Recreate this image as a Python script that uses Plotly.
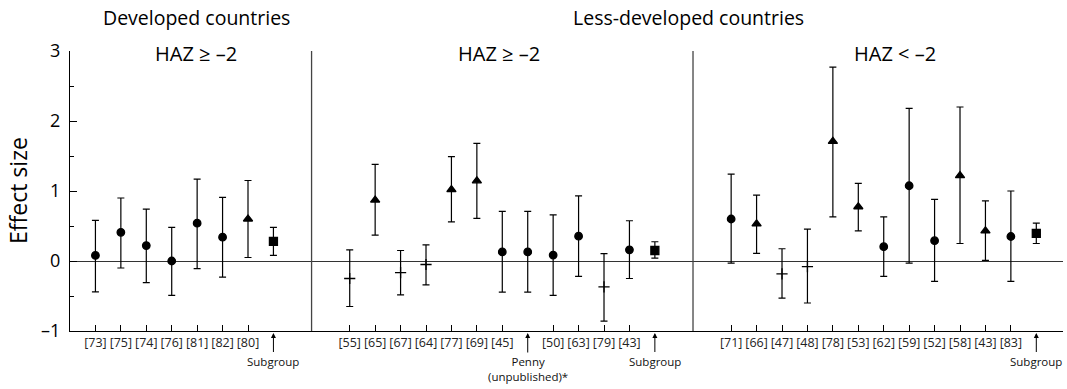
import plotly.graph_objects as go

# ---------------- data ----------------
dev_labels = ["[73]", "[75]", "[74]", "[76]", "[81]", "[82]", "[80]", "Subgroup"]
dev_est = [0.08, 0.41, 0.22, 0.00, 0.54, 0.34, 0.60, 0.28]
dev_lo = [-0.44, -0.10, -0.31, -0.49, -0.11, -0.23, 0.05, 0.08]
dev_hi = [0.58, 0.90, 0.74, 0.48, 1.17, 0.91, 1.15, 0.48]
dev_kind = ["circle", "circle", "circle", "circle", "circle", "circle", "triangle", "square"]

ldc_hi_labels = ["[55]", "[65]", "[67]", "[64]", "[77]", "[69]", "[45]",
                 "Penny<br>(unpublished)*", "[50]", "[63]", "[79]", "[43]", "Subgroup"]
ldc_hi_est = [-0.25, 0.87, -0.165, -0.05, 1.02, 1.145, 0.13, 0.13, 0.085, 0.355, -0.37, 0.16, 0.15]
ldc_hi_lo = [-0.65, 0.37, -0.485, -0.34, 0.56, 0.61, -0.445, -0.445, -0.49, -0.22, -0.86, -0.25, 0.04]
ldc_hi_hi = [0.16, 1.38, 0.15, 0.23, 1.49, 1.68, 0.71, 0.71, 0.66, 0.93, 0.105, 0.575, 0.275]
ldc_hi_kind = ["plus", "triangle", "plus", "plus", "triangle", "triangle", "circle",
               "circle", "circle", "circle", "plus", "circle", "square"]

ldc_lo_labels = ["[71]", "[66]", "[47]", "[48]", "[78]", "[53]", "[62]", "[59]",
                 "[52]", "[58]", "[43]", "[83]", "Subgroup"]
ldc_lo_est = [0.60, 0.53, -0.185, -0.08, 1.71, 0.775, 0.205, 1.075, 0.29, 1.22, 0.43, 0.35, 0.395]
ldc_lo_lo = [-0.03, 0.11, -0.53, -0.60, 0.63, 0.43, -0.22, -0.03, -0.29, 0.25, 0.01, -0.29, 0.25]
ldc_lo_hi = [1.24, 0.94, 0.175, 0.455, 2.77, 1.11, 0.63, 2.18, 0.88, 2.20, 0.86, 1.00, 0.54]
ldc_lo_kind = ["circle", "triangle", "plus", "plus", "triangle", "triangle", "circle", "circle",
               "circle", "triangle", "triangle", "circle", "square"]

panel_titles = ["HAZ ≥ –2", "HAZ ≥ –2", "HAZ < –2"]
group_titles = ["Developed countries", "Less-developed countries"]
y_ticks = [-1, 0, 1, 2, 3]
y_ticktext = ["–1", "0", "1", "2", "3"]

# ---------------- layout helpers ----------------
sym_map = {"circle": "circle", "triangle": "triangle-up", "plus": "cross-thin", "square": "square"}
size_map = {"circle": 7.5, "triangle": 8, "plus": 8, "square": 8}
INK = "#000000"
GAP = 2
FONT = "Open Sans"

panels = [
    (dev_labels, dev_est, dev_lo, dev_hi, dev_kind),
    (ldc_hi_labels, ldc_hi_est, ldc_hi_lo, ldc_hi_hi, ldc_hi_kind),
    (ldc_lo_labels, ldc_lo_est, ldc_lo_lo, ldc_lo_hi, ldc_lo_kind),
]

fig = go.Figure()
tickvals, ticktext = [], []
arrow_notes = []
dividers = []
start = 1
for p, (labels, est, lo, hi, kind) in enumerate(panels):
    xs = [start + i for i in range(len(labels))]
    fig.add_trace(go.Scatter(
        x=xs, y=est, mode="markers",
        marker=dict(symbol=[sym_map[k] for k in kind], size=[size_map[k] for k in kind],
                    color=INK, opacity=1, line=dict(color=INK, width=1.3)),
        error_y=dict(type="data", symmetric=False,
                     array=[h - e for h, e in zip(hi, est)],
                     arrayminus=[e - l for e, l in zip(est, lo)],
                     color=INK, thickness=1.2, width=3.5),
        showlegend=False, hoverinfo="skip"))
    for x, lab in zip(xs, labels):
        if lab.startswith("["):
            tickvals.append(x)
            ticktext.append(lab)
        else:
            arrow_notes.append((x, lab))
    end = xs[-1]
    if p < len(panels) - 1:
        dividers.append(end + (GAP + 1) / 2)
    start = end + GAP + 1

x_max = start - GAP - 1 + 1.05

annotations = []
for x, lab in arrow_notes:
    two = "<br>" in lab
    annotations.append(dict(
        x=x, y=-1, xref="x", yref="y", text=lab, showarrow=True,
        arrowhead=2, arrowsize=1, arrowwidth=1, arrowcolor=INK,
        ax=0, ay=38 if two else 30, standoff=2,
        font=dict(family=FONT, size=11.5, color="#111")))

title_x = [4.97, 16.86, 32.43]
for tx, t in zip(title_x, panel_titles):
    annotations.append(dict(x=tx, y=3, xref="x", yref="y", yshift=-2, text=t, showarrow=False,
                            font=dict(family=FONT, size=20, color="#000"),
                            yanchor="middle"))
for tx, t in zip([4.97, 24.33], group_titles):
    annotations.append(dict(x=tx, y=1, xref="paper" if False else "x", yref="paper", yshift=34,
                            text=t, showarrow=False, yanchor="middle",
                            font=dict(family=FONT, size=19.5, color="#000")))
annotations.append(dict(x=0, y=0.5, xref="paper", yref="paper", xshift=-52, text="Effect size",
                        textangle=-90, showarrow=False, xanchor="center", yanchor="middle",
                        font=dict(family=FONT, size=23, color="#000")))

shapes = [dict(type="line", x0=d, x1=d, y0=-1, y1=3, xref="x", yref="y",
               line=dict(color="#444", width=1.3)) for d in dividers]

fig.update_layout(
    width=1067, height=389,
    margin=dict(l=70, r=4, t=51, b=58),
    paper_bgcolor="white", plot_bgcolor="white",
    annotations=annotations, shapes=shapes,
    font=dict(family=FONT, color="#000"),
    xaxis=dict(range=[0, x_max], showgrid=False, zeroline=False, showline=True,
               linecolor=INK, linewidth=1.2, ticks="inside", ticklen=6, tickwidth=1.2,
               tickcolor=INK, tickmode="array", tickvals=tickvals, ticktext=ticktext,
               tickfont=dict(family=FONT, size=12.5, color="#222")),
    yaxis=dict(range=[-1, 3], showgrid=False, zeroline=True, zerolinecolor="#333",
               zerolinewidth=1.2, showline=True, linecolor=INK, linewidth=1.2,
               ticks="inside", ticklen=7, tickwidth=1.2, tickcolor=INK,
               tickmode="array", tickvals=y_ticks, ticktext=y_ticktext,
               ticklabelstandoff=5,
               tickfont=dict(family=FONT, size=18, color="#000"),
               minor=dict(tickmode="array", tickvals=[-0.5, 0.5, 1.5, 2.5],
                          ticks="inside", ticklen=4, tickwidth=1.2, tickcolor=INK)),
)

fig.write_html("out.html")
